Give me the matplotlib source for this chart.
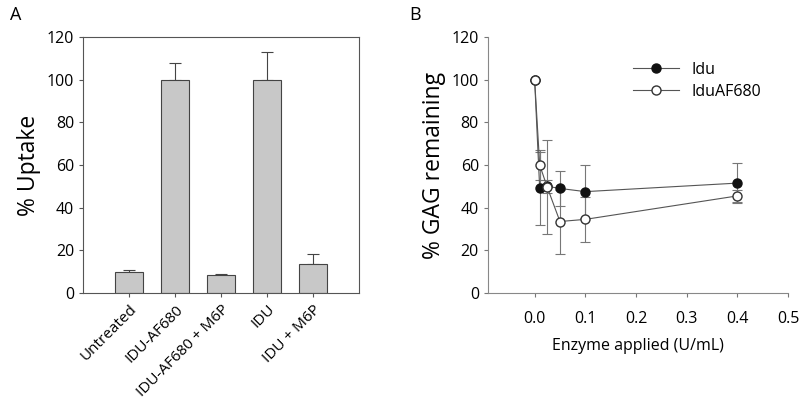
import numpy as np
import matplotlib
matplotlib.use('Agg')
import matplotlib.pyplot as plt

plt.rcParams['font.family'] = ['Open Sans', 'DejaVu Sans']

# ---- 数据: A 面板 (摄取百分比) ----
categories = ['Untreated', 'IDU-AF680', 'IDU-AF680 + M6P', 'IDU', 'IDU + M6P']
uptake = [10, 100, 8.3, 100, 13.5]
uptake_err = [1.0, 8.0, 0.5, 13.0, 5.0]

# ---- 数据: B 面板 (GAG 残留) ----
enzyme = [0.0, 0.01, 0.025, 0.05, 0.1, 0.4]
idu = [100, 49, 50, 49, 47.5, 51.5]
idu_err = [0, 17, 3, 8, 12.5, 9.5]
iduaf = [100, 60, 49.5, 33.5, 34.5, 45.5]
iduaf_err = [0, 7, 22, 15, 10.5, 3]

fig = plt.figure(figsize=(8, 4.15), dpi=100)

# (A) 柱状图
ax = fig.add_axes([0.104, 0.294, 0.345, 0.617])
x = np.arange(len(categories))
ax.bar(x, uptake, width=0.6, color='#c8c8c8', edgecolor='#444444', linewidth=0.8, zorder=2)
ax.errorbar(x, uptake, yerr=[np.zeros(len(uptake)), uptake_err], fmt='none',
            ecolor='#444444', elinewidth=0.8, capsize=4, capthick=0.8, zorder=1)
ax.set_xlim(-1, 5)
ax.set_ylim(0, 120)
ax.set_yticks(np.arange(0, 121, 20))
ax.set_xticks(x)
ax.set_xticklabels(categories, rotation=45, ha='right', rotation_mode='anchor', fontsize=11)
ax.set_ylabel('% Uptake', fontsize=16.5)
ax.tick_params(axis='both', direction='out', length=3, color='#555555')
ax.tick_params(axis='y', labelsize=11.5)
for s in ax.spines.values():
    s.set_color('#555555')
    s.set_linewidth(0.8)
fig.text(0.012, 0.965, 'A', fontsize=13, va='center')

# (B) 折线图
bx = fig.add_axes([0.610, 0.294, 0.375, 0.617])
ebkw = dict(fmt='none', ecolor='#777777', elinewidth=0.8, capsize=3.5, capthick=0.8)
bx.errorbar(enzyme, idu, yerr=idu_err, zorder=2, **ebkw)
bx.errorbar(enzyme, iduaf, yerr=iduaf_err, zorder=2, **ebkw)
bx.plot(enzyme, idu, '-o', color='#555555', lw=0.8, mfc='#111111', mec='#111111',
        ms=6.5, label='Idu', zorder=3)
bx.plot(enzyme, iduaf, '-o', color='#555555', lw=0.8, mfc='white', mec='#333333',
        ms=6.5, label='IduAF680', zorder=4)
bx.set_xlim(-0.092, 0.5)
bx.set_ylim(0, 120)
bx.set_yticks(np.arange(0, 121, 20))
bx.set_xticks(np.arange(0, 0.51, 0.1))
bx.set_xticklabels(['0.0', '0.1', '0.2', '0.3', '0.4', '0.5'])
bx.set_xlabel('Enzyme applied (U/mL)', fontsize=11.5, labelpad=8)
bx.set_ylabel('% GAG remaining', fontsize=16.5)
bx.tick_params(axis='both', direction='out', length=3, color='#777777', labelsize=11.5)
bx.tick_params(axis='x', pad=10)
for k in ['top', 'right']:
    bx.spines[k].set_visible(False)
for k in ['left', 'bottom']:
    bx.spines[k].set_color('#888888')
    bx.spines[k].set_linewidth(0.8)
bx.legend(loc='upper left', bbox_to_anchor=(0.435, 0.96), frameon=False,
          fontsize=11.5, handlelength=2.9, labelspacing=0.4, handletextpad=0.8)
fig.text(0.512, 0.965, 'B', fontsize=13, va='center')

fig.savefig('out.png', dpi=100)
